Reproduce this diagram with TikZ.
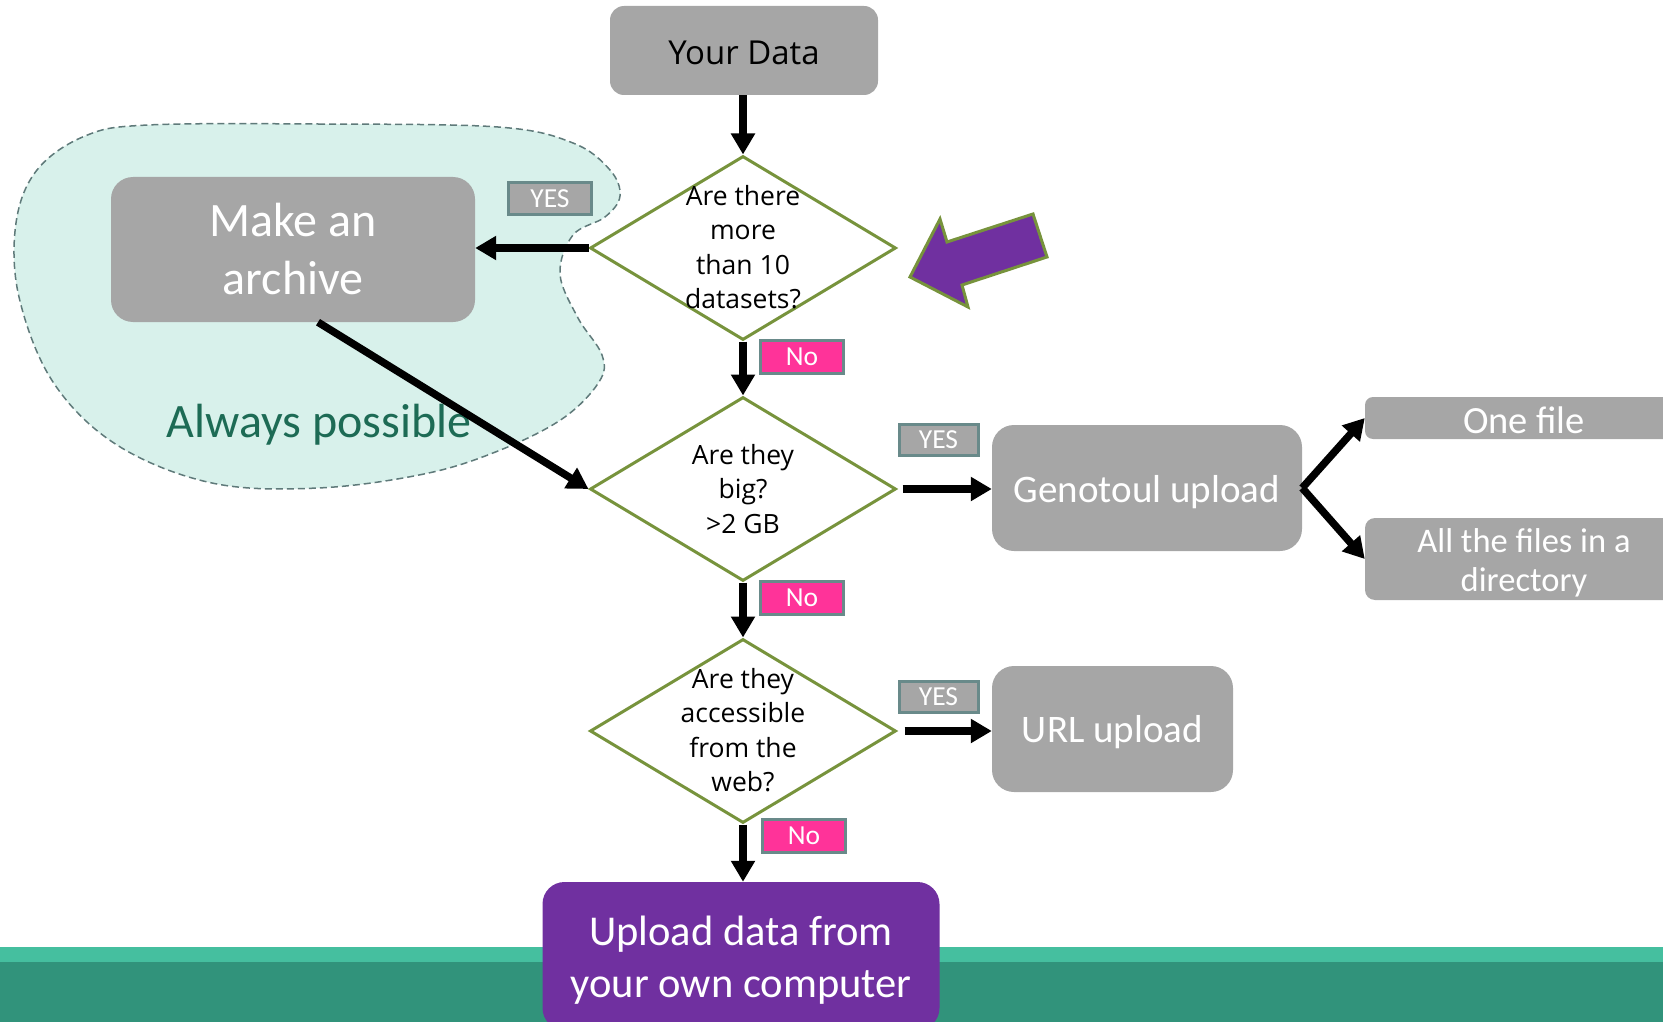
\documentclass[tikz,border=0pt]{standalone}
\usepackage{fontspec}
\newfontfamily\carl{Carlito}
\newfontfamily\osans{Open Sans}
\usetikzlibrary{shapes.geometric,arrows.meta}
\definecolor{boxgray}{HTML}{A6A6A6}
\definecolor{olivec}{HTML}{77933C}
\definecolor{labborder}{HTML}{698A8A}
\definecolor{pinkc}{HTML}{FF3399}
\definecolor{purplec}{HTML}{7030A0}
\definecolor{cloudfill}{HTML}{D8F1EB}
\definecolor{clouddraw}{HTML}{5F7A7A}
\definecolor{alwaysc}{HTML}{1D6B55}
\definecolor{bandlight}{HTML}{45BF9F}
\definecolor{banddark}{HTML}{31937B}
\tikzset{
  box/.style={rectangle, rounded corners=18pt, fill=boxgray, inner sep=0pt},
  wtext/.style={text=white, align=center, inner sep=0pt},
  dia/.style={diamond, draw=olivec, line width=3pt, fill=white, inner sep=0pt, minimum width=306pt, minimum height=184pt},
  dtext/.style={font={\osans\fontsize{26.5}{34.5}\selectfont}, align=center, inner sep=0pt},
  lab/.style={rectangle, draw=labborder, line width=3pt, text=white, inner sep=0pt, font={\carl\fontsize{27.5}{30}\selectfont}},
  yeslab/.style={lab, fill=boxgray, minimum width=79pt, minimum height=31pt},
  nolab/.style={lab, fill=pinkc, minimum width=83pt, minimum height=33pt},
  arr/.style={line width=7.5pt, -{Triangle[length=21pt,width=23pt]}},
}
\begin{document}
\begin{tikzpicture}[x=1pt,y=-1pt]
\useasboundingbox (0,0) rectangle (1663,1022);
\clip (0,0) rectangle (1663,1022);
% bottom bands
\fill[bandlight] (0,947) rectangle (1663,962);
\fill[banddark] (0,962) rectangle (1663,1022);
% cloud
\draw[fill=cloudfill, draw=clouddraw, line width=1.5pt, dash pattern=on 7pt off 4pt]
  plot[smooth cycle, tension=0.6] coordinates {
  (148,125) (318,124) (498,127) (573,143) (610,170) (620,196) (605,217)
  (573,235) (560,274) (578,318) (602,355) (599,382) (562,419) (498,451)
  (424,474) (318,488) (212,483) (117,445) (53,382) (19,297) (16,223)
  (37,170) (85,136)};
\node[text=alwaysc, font={\carl\fontsize{48}{52}\selectfont}, anchor=base, inner sep=0pt] (always) at (319,437) {Always possible};
% purple block arrow
\draw[fill=purplec, draw=olivec, line width=3pt, line join=miter]
  (910,277) -- (940,219) -- (947,242) -- (1033,214) -- (1047,257) -- (962,285) -- (968,307) -- cycle;
% nodes
\node[box, rounded corners=14pt, minimum width=268pt, minimum height=89pt] (yourdata) at (744,50.5) {};
\node[inner sep=0pt, font={\osans\fontsize{33}{36}\selectfont}] (yourdatat) at ([yshift=-2pt]yourdata.center) {Your Data};
\node[dia] (d1) at (743,248) {};
\node[dtext] (d1t) at (743,247) {Are there\\more\\than 10\\datasets?};
\node[dia] (d2) at (743,489) {};
\node[dtext] (d2t) at (743,489) {Are they\\big?\\>2 GB};
\node[dia] (d3) at (743,731) {};
\node[dtext] (d3t) at (743,730) {Are they\\accessible\\from the\\web?};
\node[box, rounded corners=22pt, minimum width=364pt, minimum height=145pt] (archive) at (293,249.5) {};
\node[wtext, font={\carl\fontsize{48}{58}\selectfont}] (archivet) at (archive.center) {Make an\\archive};
\node[box, rounded corners=22pt, minimum width=310pt, minimum height=126pt] (geno) at (1147,488) {};
\node[wtext, font={\carl\fontsize{39}{42}\selectfont}] (genot) at ([yshift=-4pt]geno.center) {Genotoul upload};
\node[box, rounded corners=8pt, minimum width=318pt, minimum height=42pt] (onefile) at (1524,418) {};
\node[wtext, font={\carl\fontsize{38.5}{40}\selectfont}] (onefilet) at ([yshift=-2pt]onefile.center) {One file};
\node[box, rounded corners=10pt, minimum width=318pt, minimum height=82pt] (allfiles) at (1524,559) {};
\node[wtext, font={\carl\fontsize{34.5}{39}\selectfont}] (allfilest) at ([yshift=-4pt]allfiles.center) {All the files in a\\directory};
\node[box, rounded corners=22pt, minimum width=241pt, minimum height=126pt] (url) at (1112.5,729) {};
\node[wtext, font={\carl\fontsize{39}{42}\selectfont}] (urlt) at ([yshift=-3pt]url.center) {URL upload};
\node[box, fill=purplec, rounded corners=22pt, minimum width=397pt, minimum height=148pt] (upload) at (741,956) {};
\node[wtext, font={\carl\fontsize{42.5}{52}\selectfont}] (uploadt) at ([yshift=-4pt]upload.center) {Upload data from\\your own computer};
% connectors
\draw[arr] (yourdata.south -| d1.north) -- (d1.north);
\draw[arr] (d1.west) -- (d1.west -| archive.east);
\draw[arr] ([xshift=25pt]archive.south) -- (d2.west);
\draw[arr] (d1.south) -- (d2.north);
\draw[arr] ([xshift=5pt]d2.east) -- (d2.east -| geno.west);
\draw[arr] (geno.east) -- (onefile.west);
\draw[arr] (geno.east) -- (allfiles.west);
\draw[arr] (d2.south) -- (d3.north);
\draw[arr] ([xshift=7pt]d3.east) -- (d3.east -| url.west);
\draw[arr] (d3.south) -- (d3.south |- upload.north);
% labels
\node[yeslab, minimum width=83pt, minimum height=32pt] (yes1) at (550,198.5) {YES};
\node[yeslab] (yes2) at (938.5,440) {YES};
\node[yeslab] (yes3) at (938.5,696.5) {YES};
\node[nolab] (no1) at (802,356.5) {No};
\node[nolab] (no2) at (802,598) {No};
\node[nolab] (no3) at (804,836) {No};
\end{tikzpicture}
\end{document}
